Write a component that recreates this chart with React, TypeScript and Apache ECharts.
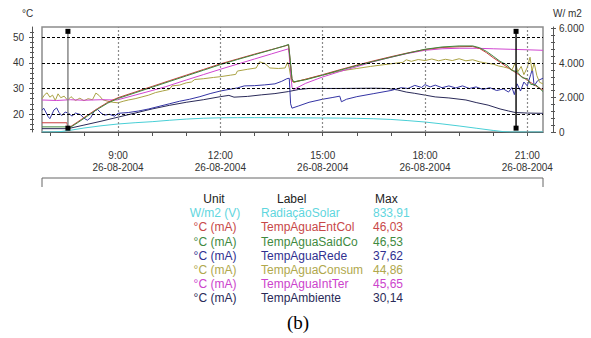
import React, { useEffect, useRef } from "react";
import * as echarts from "echarts";

// ---------- data ----------
const dateText = "26-08-2004";
const hourTicks = [7, 8, 9, 10, 11, 12, 13, 14, 15, 16, 17, 18, 19, 20, 21];
const hourLabels = [9, 12, 15, 18, 21];
const leftLabels = [20, 30, 40, 50];
const leftMinor = [14, 16, 18, 20, 22, 24, 26, 28, 30, 32, 34, 36, 38, 40, 42, 44, 46, 48, 50, 52];
const rightLabels = [0, 2000, 4000, 6000];
const rightMinor = [0, 400, 800, 1200, 1600, 2000, 2400, 2800, 3200, 3600, 4000, 4400, 4800, 5200, 5600, 6000];

const legendUnits = ["W/m2 (V)", "°C (mA)", "°C (mA)", "°C (mA)", "°C (mA)", "°C (mA)", "°C (mA)"];
const legendLabels = ["RadiaçãoSolar", "TempAguaEntCol", "TempAguaSaidCo", "TempAguaRede", "TempAguaConsum", "TempAguaIntTer", "TempAmbiente"];
const legendMax = ["833,91", "46,03", "46,53", "37,62", "44,86", "45,65", "30,14"];

const radiacaoSolar: [number, number][] = [
  [6.77, 0], [7.0, 0], [7.3, 20], [7.6, 100], [8.0, 230], [8.5, 360], [9.0, 465], [9.5, 540], [10.0, 600],
  [10.5, 680], [11.0, 750], [11.5, 800], [12.0, 825], [12.5, 832], [13.0, 834], [14.0, 826], [15.0, 815],
  [15.5, 808], [16.0, 795], [16.5, 770], [17.0, 730], [17.5, 660], [18.0, 580], [18.5, 470], [19.0, 350],
  [19.5, 220], [20.0, 90], [20.3, 20], [20.5, 0], [21.46, 0],
];

const tempAguaEntCol: [number, number][] = [
  [6.77, 16.6], [7.5, 16.6], [7.53, 14.4], [7.8, 16.8], [8.1, 19.5], [8.4, 22.2], [8.7, 24.6], [9.0, 26.4],
  [9.5, 28.6], [10.0, 30.8], [10.5, 33.0], [11.0, 35.2], [11.5, 37.4], [12.0, 39.6], [12.5, 41.5], [13.0, 43.4],
  [13.5, 45.2], [13.9, 46.6], [14.0, 47.0], [14.05, 40.5], [14.1, 33.5], [14.15, 32.4], [14.5, 33.6],
  [15.0, 35.4], [15.5, 37.3], [16.0, 39.1], [16.5, 40.8], [17.0, 42.4], [17.5, 43.9], [18.0, 45.2],
  [18.5, 46.0], [19.0, 46.3], [19.4, 46.4], [19.6, 45.6], [19.8, 44.0], [20.0, 42.0], [20.25, 39.8],
  [20.5, 37.6], [20.75, 35.4], [21.0, 33.2], [21.25, 31.0], [21.46, 29.4],
];

const tempAguaSaidCo: [number, number][] = [
  [6.77, 15.0], [7.5, 15.0], [7.53, 14.2], [7.8, 16.5], [8.1, 19.2], [8.4, 21.9], [8.7, 24.3], [9.0, 26.1],
  [9.5, 28.3], [10.0, 30.5], [10.5, 32.7], [11.0, 34.9], [11.5, 37.1], [12.0, 39.3], [12.5, 41.3], [13.0, 43.2],
  [13.5, 45.1], [13.9, 46.7], [14.0, 47.2], [14.05, 41.0], [14.1, 33.8], [14.15, 32.6], [14.5, 33.4],
  [15.0, 35.2], [15.5, 37.1], [16.0, 38.9], [16.5, 40.6], [17.0, 42.2], [17.5, 43.8], [18.0, 45.3],
  [18.5, 46.2], [19.0, 46.6], [19.4, 46.6], [19.6, 45.9], [19.8, 44.5], [20.0, 42.6], [20.2, 40.6],
  [20.4, 39.2], [20.55, 37.0], [20.7, 36.6], [20.85, 34.2], [21.0, 33.8], [21.1, 31.6], [21.25, 31.4],
  [21.46, 28.8],
];

const tempAguaRede: [number, number][] = [
  [6.77, 21.5], [6.82, 22.3], [6.88, 20.8], [6.95, 19.0], [7.0, 18.2], [7.05, 19.6], [7.12, 21.6], [7.2, 22.4],
  [7.27, 20.6], [7.35, 19.4], [7.45, 20.8], [7.55, 20.3], [7.65, 19.2], [7.75, 20.4], [7.9, 19.8], [8.0, 18.4],
  [8.1, 17.6], [8.2, 18.6], [8.3, 21.2], [8.4, 21.8], [8.5, 20.4], [8.6, 19.6], [8.75, 19.9], [8.9, 19.2],
  [9.0, 20.3], [9.3, 20.6], [9.6, 21.2], [9.9, 22.0], [10.2, 23.0], [10.5, 24.0], [10.8, 25.0], [11.1, 25.8],
  [11.4, 26.8], [11.7, 28.0], [12.0, 29.0], [12.2, 29.5], [12.5, 30.2], [12.7, 31.0], [13.0, 31.1],
  [13.3, 31.4], [13.6, 31.8], [13.8, 32.8], [13.95, 33.8], [14.02, 34.0], [14.06, 24.0], [14.1, 22.3],
  [14.3, 23.2], [14.6, 24.6], [15.0, 25.8], [15.3, 26.5], [15.5, 27.0], [15.55, 24.8], [15.7, 25.8],
  [16.0, 26.8], [16.5, 28.0], [17.0, 29.2], [17.3, 30.3], [17.5, 30.0], [17.7, 31.2], [17.9, 30.4],
  [18.0, 31.5], [18.15, 30.6], [18.3, 31.3], [18.5, 30.3], [18.7, 31.0], [18.9, 30.2], [19.1, 31.0],
  [19.3, 30.0], [19.5, 30.6], [19.7, 29.6], [19.9, 30.3], [20.1, 29.2], [20.3, 29.8], [20.45, 28.6],
  [20.55, 30.4], [20.62, 27.6], [20.7, 31.8], [20.8, 29.0], [20.9, 32.5], [21.0, 31.0], [21.1, 35.5],
  [21.15, 37.6], [21.2, 31.0], [21.3, 33.0], [21.46, 34.0],
];

const tempAguaConsum: [number, number][] = [
  [6.77, 26.0], [6.85, 27.6], [6.92, 28.3], [7.0, 26.6], [7.08, 27.4], [7.16, 25.3], [7.24, 27.9], [7.32, 26.4],
  [7.42, 27.0], [7.52, 25.4], [7.62, 26.8], [7.75, 25.3], [7.88, 26.2], [8.0, 25.2], [8.12, 26.0], [8.25, 25.6],
  [8.35, 28.2], [8.45, 27.2], [8.55, 25.6], [8.7, 25.0], [8.85, 24.6], [9.0, 24.4], [9.15, 25.0], [9.3, 25.5],
  [9.5, 26.0], [9.7, 26.7], [9.9, 27.4], [10.1, 28.4], [10.3, 29.0], [10.5, 29.6], [10.58, 31.0], [10.8, 31.3],
  [11.0, 32.2], [11.15, 32.5], [11.25, 33.5], [11.5, 33.8], [11.8, 34.3], [12.0, 34.6], [12.3, 35.2],
  [12.45, 35.5], [12.5, 36.8], [12.8, 37.5], [13.05, 38.0], [13.15, 40.4], [13.3, 39.8], [13.45, 38.0],
  [13.7, 37.8], [13.9, 38.0], [13.97, 40.3], [14.02, 38.0], [14.08, 33.0], [14.15, 32.5], [14.5, 33.6],
  [15.0, 35.2], [15.3, 36.2], [15.6, 37.0], [16.0, 37.8], [16.4, 38.6], [16.8, 39.3], [17.1, 39.8],
  [17.35, 40.2], [17.45, 41.2], [17.6, 40.6], [17.8, 41.3], [18.0, 40.9], [18.2, 41.5], [18.4, 40.8],
  [18.6, 41.4], [18.8, 40.9], [19.0, 41.6], [19.2, 40.8], [19.4, 41.2], [19.6, 40.4], [19.8, 39.9],
  [20.0, 39.5], [20.15, 38.8], [20.3, 38.4], [20.45, 37.9], [20.55, 37.2], [20.65, 40.2], [20.72, 36.5],
  [20.82, 38.6], [20.9, 35.4], [21.0, 38.2], [21.08, 42.2], [21.14, 36.8], [21.2, 40.0], [21.28, 35.0],
  [21.36, 32.4], [21.46, 31.8],
];

const tempAguaIntTer: [number, number][] = [
  [6.77, 25.5], [7.2, 25.3], [7.6, 25.6], [8.0, 25.4], [8.5, 25.6], [8.97, 25.5], [9.5, 27.4], [10.0, 29.2],
  [10.4, 30.7], [11.0, 33.3], [11.5, 35.4], [12.0, 37.5], [12.5, 39.5], [13.0, 41.5], [13.5, 43.5],
  [14.0, 45.5], [14.05, 38.0], [14.1, 30.5], [14.15, 29.6], [14.5, 32.0], [15.0, 34.5], [15.5, 36.6],
  [16.0, 38.5], [16.5, 40.5], [17.0, 42.2], [17.5, 43.7], [18.0, 44.9], [18.5, 45.5], [19.0, 45.7],
  [19.5, 45.7], [20.0, 45.5], [20.5, 45.3], [21.0, 45.1], [21.46, 44.9],
];

const tempAmbiente: [number, number][] = [
  [6.77, 14.3], [7.53, 14.3], [8.0, 15.7], [8.5, 17.2], [9.0, 18.8], [9.5, 20.4], [10.0, 22.0], [10.5, 23.4],
  [11.0, 24.6], [11.5, 25.6], [12.0, 26.8], [12.25, 27.3], [12.4, 26.6], [12.8, 26.9], [13.2, 27.5],
  [13.6, 28.0], [14.0, 28.8], [14.3, 29.6], [14.6, 30.0], [15.5, 30.0], [16.5, 30.1], [16.9, 30.0],
  [17.2, 29.4], [17.45, 28.6], [17.7, 28.1], [18.0, 27.4], [18.3, 26.7], [18.7, 26.3], [19.2, 25.5],
  [19.5, 24.5], [19.85, 23.5], [20.2, 22.0], [20.45, 21.2], [20.65, 20.6], [21.0, 20.4], [21.46, 20.3],
];

const cursorLeft: [number, number][] = [[7.53, 52.3], [7.53, 14.5]];
const cursorRight: [number, number][] = [[20.67, 52.3], [20.67, 14.5]];

// ---------- styles ----------
const seriesColors = ["#48cfd6", "#c83c3c", "#3d873d", "#3434a4", "#aaa244", "#d046d0", "#2a2a58"];
const legendColors = ["#5fd6de", "#c84848", "#3f8a3f", "#303090", "#b0a84c", "#cc44cc", "#2a2a58"];
const FONT = "Arial, 'Liberation Sans', sans-serif";
const AXIS = "#333";

const fmtHour = (v: number) => `${Math.round(v)}:00\n${dateText}`;
const fmtWatt = (v: number) => (v === 0 ? "0" : (v / 1000).toFixed(3));

const line = (name: string, data: [number, number][], color: string, yAxisIndex = 0) => ({
  name,
  type: "line",
  data,
  yAxisIndex,
  symbol: "none",
  lineStyle: { color, width: 1 },
  itemStyle: { color },
  silent: true,
});

function buildOption() {
  const xMin = 6.77;
  const xMax = 21.46;
  const yl = { min: 13, max: 54 };
  const leftBase = {
    type: "value",
    position: "left",
    offset: 10,
    ...yl,
    splitLine: { show: false },
  };
  const rightBase = {
    type: "value",
    position: "right",
    offset: 10,
    min: 0,
    max: 6100,
    splitLine: { show: false },
  };

  const legendGraphics: any[] = [];
  const rowY = (i: number) => 199 + i * 14.2;
  legendGraphics.push(
    { type: "text", style: { text: "Unit", x: 214, y: rowY(0), fill: "#222", font: `12px ${FONT}`, align: "center", verticalAlign: "middle" } },
    { type: "text", style: { text: "Label", x: 277, y: rowY(0), fill: "#222", font: `12px ${FONT}`, align: "left", verticalAlign: "middle" } },
    { type: "text", style: { text: "Max", x: 375, y: rowY(0), fill: "#222", font: `12px ${FONT}`, align: "left", verticalAlign: "middle" } },
  );
  legendLabels.forEach((lab, i) => {
    const y = rowY(i + 1);
    const fill = legendColors[i];
    legendGraphics.push(
      { type: "text", style: { text: legendUnits[i], x: 215, y, fill, font: `12px ${FONT}`, align: "center", verticalAlign: "middle" } },
      { type: "text", style: { text: lab, x: 261, y, fill, font: `12px ${FONT}`, align: "left", verticalAlign: "middle" } },
      { type: "text", style: { text: legendMax[i], x: 373, y, fill, font: `12px ${FONT}`, align: "left", verticalAlign: "middle" } },
    );
  });

  return {
    animation: false,
    backgroundColor: "#fff",
    grid: {
      left: 42,
      top: 27,
      width: 501,
      height: 105,
      show: true,
      borderColor: "#8c8c8c",
      borderWidth: 1.5,
      backgroundColor: "transparent",
    },
    xAxis: {
      type: "value",
      min: xMin,
      max: xMax,
      position: "bottom",
      offset: 9,
      axisLine: { show: true, lineStyle: { color: "#555", width: 1 } },
      axisTick: { show: true, customValues: hourTicks, length: 4, lineStyle: { color: "#555" } },
      axisLabel: {
        customValues: hourLabels,
        formatter: fmtHour,
        color: AXIS,
        fontSize: 10,
        fontFamily: FONT,
        lineHeight: 12,
        margin: 8,
      },
      splitLine: { show: false },
    },
    yAxis: [
      {
        ...leftBase,
        axisLine: { show: true, lineStyle: { color: "#555" } },
        axisTick: { show: true, customValues: leftLabels, length: 3, lineStyle: { color: "#555" } },
        axisLabel: { customValues: leftLabels, color: AXIS, fontSize: 10, fontFamily: FONT, margin: 8 },
      },
      {
        ...rightBase,
        axisLine: { show: true, lineStyle: { color: "#555" } },
        axisTick: { show: true, customValues: rightLabels, length: 3, lineStyle: { color: "#555" } },
        axisLabel: { customValues: rightLabels, formatter: fmtWatt, color: AXIS, fontSize: 10, fontFamily: FONT, margin: 6 },
      },
      {
        ...leftBase,
        axisLine: { show: false },
        axisTick: { show: true, inside: true, customValues: leftMinor, length: 2, lineStyle: { color: "#555" } },
        axisLabel: { show: false },
      },
      {
        ...leftBase,
        axisLine: { show: false },
        axisTick: { show: true, customValues: leftMinor, length: 2, lineStyle: { color: "#555" } },
        axisLabel: { show: false },
      },
      {
        ...rightBase,
        axisLine: { show: false },
        axisTick: { show: true, inside: true, customValues: rightMinor, length: 2, lineStyle: { color: "#555" } },
        axisLabel: { show: false },
      },
      {
        ...rightBase,
        axisLine: { show: false },
        axisTick: { show: true, customValues: rightMinor, length: 2, lineStyle: { color: "#555" } },
        axisLabel: { show: false },
      },
    ],
    graphic: [
      { type: "text", style: { text: "°C", x: 22, y: 13, fill: AXIS, font: `10px ${FONT}`, verticalAlign: "middle" } },
      { type: "text", style: { text: "W/ m2", x: 553, y: 13, fill: AXIS, font: `10px ${FONT}`, verticalAlign: "middle" } },
      {
        type: "polyline",
        shape: { points: [[42, 187], [42, 178], [543, 178], [543, 187]] },
        style: { stroke: "#666", lineWidth: 1, fill: "none" },
      },
      ...legendGraphics,
      { type: "text", style: { text: "(b)", x: 298, y: 322, fill: "#000", font: `19px 'Liberation Serif', 'Times New Roman', serif`, align: "center", verticalAlign: "middle" } },
    ],
    series: [
      {
        name: "grid",
        type: "line",
        data: [],
        yAxisIndex: 0,
        silent: true,
        markLine: {
          silent: true,
          symbol: ["none", "none"],
          label: { show: false },
          animation: false,
          data: [
            ...leftLabels.map((v) => ({ yAxis: v, lineStyle: { color: "#000", width: 1, type: [3, 2] } })),
            ...hourLabels.map((v) => ({ xAxis: v, lineStyle: { color: "#8a8a8a", width: 1.2, type: [2, 2] } })),
          ],
        },
      },
      line(legendLabels[0], radiacaoSolar, seriesColors[0], 1),
      line(legendLabels[6], tempAmbiente, seriesColors[6]),
      line(legendLabels[3], tempAguaRede, seriesColors[3]),
      line(legendLabels[4], tempAguaConsum, seriesColors[4]),
      line(legendLabels[5], tempAguaIntTer, seriesColors[5]),
      line(legendLabels[1], tempAguaEntCol, seriesColors[1]),
      line(legendLabels[2], tempAguaSaidCo, seriesColors[2]),
      {
        name: "cursorLeft",
        type: "line",
        data: cursorLeft,
        symbol: "rect",
        symbolSize: 5,
        itemStyle: { color: "#000" },
        lineStyle: { color: "#888", width: 1.5 },
        silent: true,
      },
      {
        name: "cursorRight",
        type: "line",
        data: cursorRight,
        symbol: "rect",
        symbolSize: 5,
        itemStyle: { color: "#000" },
        lineStyle: { color: "#111", width: 1.5 },
        silent: true,
      },
    ],
  };
}

export default function App() {
  const ref = useRef<HTMLDivElement>(null);
  useEffect(() => {
    if (!ref.current) return;
    const chart = echarts.init(ref.current, null, { renderer: "svg" });
    chart.setOption(buildOption() as any);
    return () => chart.dispose();
  }, []);
  return (
    <div
      ref={ref}
      style={{ position: "fixed", left: 0, top: 0, width: 591, height: 338, background: "#fff" }}
    />
  );
}
